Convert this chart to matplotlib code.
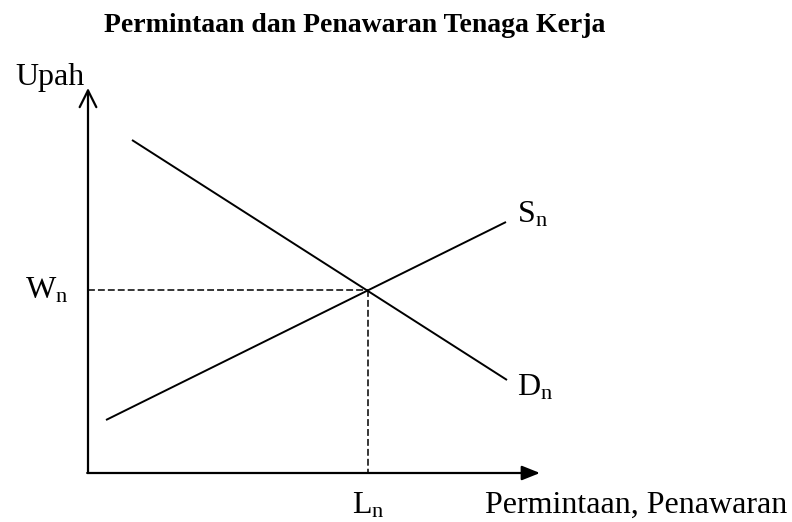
import numpy as np
import matplotlib
matplotlib.use("Agg")
from matplotlib import pyplot as plt

plt.rcParams["font.family"] = ["Liberation Serif", "DejaVu Serif"]
plt.rcParams["mathtext.fontset"] = "custom"
plt.rcParams["mathtext.rm"] = "Liberation Serif"
plt.rcParams["mathtext.it"] = "Liberation Serif:italic"

# curves, in axis units (labour on x, wage on y)
demand_x = [4.4, 41.9]
demand_y = [33.3, 9.3]
supply_x = [1.8, 41.8]
supply_y = [5.3, 25.1]

# equilibrium
L_n = 28.0
W_n = 18.3

x_max = 45.2
y_max = 38.5

title = "Permintaan dan Penawaran Tenaga Kerja"
x_label = "Permintaan, Penawaran"
y_label = "Upah"

fig = plt.figure(figsize=(7.92, 5.22), dpi=100)
ax = fig.add_axes([0, 0, 1, 1])
ax.set_xlim(-8.8, 70.4)
ax.set_ylim(-4.9, 47.3)
ax.axis("off")

# axes with arrows
ax.annotate("", xy=(0, y_max), xytext=(0, 0),
            arrowprops=dict(arrowstyle="->,head_length=0.6,head_width=0.3",
                            lw=1.6, color="black", mutation_scale=20,
                            shrinkA=0, shrinkB=0))
ax.annotate("", xy=(x_max, 0), xytext=(-0.08, 0),
            arrowprops=dict(arrowstyle="-|>,head_length=0.55,head_width=0.22",
                            lw=1.6, color="black", mutation_scale=20,
                            shrinkA=0, shrinkB=0))

ax.plot(demand_x, demand_y, color="black", lw=1.4, solid_capstyle="butt")
ax.plot(supply_x, supply_y, color="black", lw=1.4, solid_capstyle="butt")

ax.plot([0, L_n], [W_n, W_n], color="black", lw=1.1, dashes=(4.5, 2))
ax.plot([L_n, L_n], [W_n, 0], color="black", lw=1.1, dashes=(4.5, 2))

ax.text(26.7, 44.1, title, ha="center", va="baseline", fontsize=20,
        fontweight="bold")
ax.text(-7.3, 38.8, y_label, ha="left", va="baseline", fontsize=23)
ax.text(39.7, -4.0, x_label, ha="left", va="baseline", fontsize=23)

ax.text(-2.0, W_n - 0.9, r"$\mathrm{W_n}$", ha="right", va="baseline", fontsize=23)
ax.text(L_n, -4.0, r"$\mathrm{L_n}$", ha="center", va="baseline", fontsize=23)
ax.text(42.9, 25.0, r"$\mathrm{S_n}$", ha="left", va="baseline", fontsize=23)
ax.text(42.9, 7.8, r"$\mathrm{D_n}$", ha="left", va="baseline", fontsize=23)

fig.savefig("out.png", dpi=100)
